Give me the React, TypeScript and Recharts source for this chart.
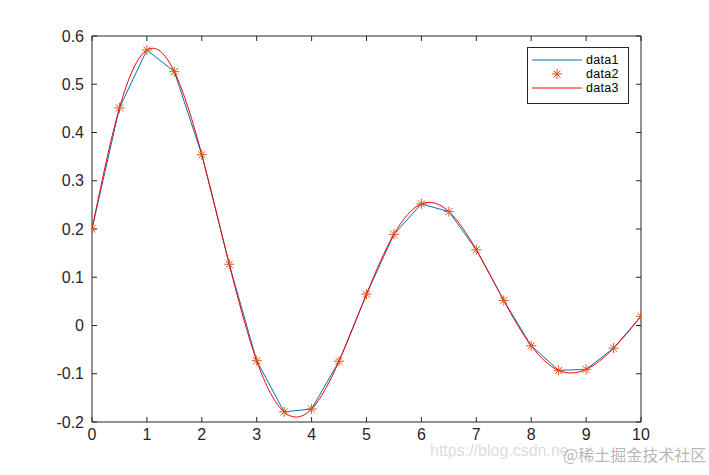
import React from 'react';
import { LineChart, Line, XAxis, YAxis } from 'recharts';

const xValues = [0, 0.5, 1, 1.5, 2, 2.5, 3, 3.5, 4, 4.5, 5, 5.5, 6, 6.5, 7, 7.5, 8, 8.5, 9, 9.5, 10];
const yValues = [0.2, 0.451, 0.571, 0.526, 0.354, 0.127, -0.073, -0.179, -0.173, -0.074, 0.065, 0.189, 0.252, 0.236, 0.157, 0.052, -0.042, -0.093, -0.091, -0.047, 0.019];
const xTicks = [0, 1, 2, 3, 4, 5, 6, 7, 8, 9, 10];
const yTicks = [-0.2, -0.1, 0, 0.1, 0.2, 0.3, 0.4, 0.5, 0.6];
const yTickLabels = ['-0.2', '-0.1', '0', '0.1', '0.2', '0.3', '0.4', '0.5', '0.6'];
const seriesNames = ['data1', 'data2', 'data3'];
const watermarkUrl = 'https://blog.csdn.ne';
const watermarkSite = '@稀土掘金技术社区';

const COLORS = ['#0072BD', '#D95319', '#FF0000'];
const AXIS = '#262626';
const FONT = '"Liberation Sans", Arial, Helvetica, sans-serif';

const data = xValues.map((x, i) => ({ x, d1: yValues[i], d2: yValues[i], d3: yValues[i] }));

const Asterisk = (props: any) => {
  const { cx, cy, size = 5, color = COLORS[1] } = props;
  if (cx == null || cy == null) return null;
  const r = size;
  const d = r * 0.707;
  return (
    <g stroke={color} strokeWidth={1} fill="none">
      <line x1={cx - r} y1={cy} x2={cx + r} y2={cy} />
      <line x1={cx} y1={cy - r} x2={cx} y2={cy + r} />
      <line x1={cx - d} y1={cy - d} x2={cx + d} y2={cy + d} />
      <line x1={cx - d} y1={cy + d} x2={cx + d} y2={cy - d} />
    </g>
  );
};

const ROW = 14;

const LegendBox = () => (
  <div
    style={{
      position: 'absolute',
      left: 527,
      top: 47,
      width: 100,
      height: 55,
      border: '1px solid #262626',
      background: '#fff',
      fontFamily: FONT,
      fontSize: 12.5,
      letterSpacing: 0.3,
      color: '#000',
    }}
  >
    {seriesNames.map((name, i) => (
      <div key={name} style={{ position: 'absolute', left: 0, top: 5 + i * ROW, height: ROW, width: 100 }}>
        <svg width={56} height={ROW} style={{ position: 'absolute', left: 0, top: 0 }}>
          {i === 1 ? (
            <Asterisk cx={29} cy={7} size={5} color={COLORS[1]} />
          ) : (
            <line x1={4} y1={7} x2={54} y2={7} stroke={COLORS[i]} strokeWidth={1} />
          )}
        </svg>
        <span style={{ position: 'absolute', left: 58, top: 0, lineHeight: `${ROW}px` }}>{name}</span>
      </div>
    ))}
  </div>
);

export default function App() {
  return (
    <div style={{ position: 'absolute', left: 0, top: 0, width: 709, height: 475, background: '#fff' }}>
      <LineChart
        width={709}
        height={475}
        data={data}
        margin={{ top: 35, right: 67, left: 32, bottom: 23 }}
      >
        <XAxis
          xAxisId="b"
          dataKey="x"
          type="number"
          domain={[0, 10]}
          ticks={xTicks}
          allowDataOverflow
          height={30}
          tickSize={-5}
          tickMargin={12}
          stroke={AXIS}
          tick={{ fill: AXIS, fontSize: 16, fontFamily: FONT }}
          tickLine={{ stroke: AXIS }}
        />
        <XAxis
          xAxisId="t"
          orientation="top"
          dataKey="x"
          type="number"
          domain={[0, 10]}
          ticks={xTicks}
          allowDataOverflow
          height={1}
          tickSize={-5}
          tickFormatter={() => ''}
          stroke={AXIS}
          tickLine={{ stroke: AXIS }}
        />
        <YAxis
          yAxisId="l"
          type="number"
          domain={[-0.2, 0.6]}
          ticks={yTicks}
          allowDataOverflow
          width={60}
          tickSize={-5}
          tickMargin={13}
          tickFormatter={(v: number) => yTickLabels[yTicks.findIndex((t) => Math.abs(t - v) < 1e-9)] ?? String(v)}
          stroke={AXIS}
          tick={{ fill: AXIS, fontSize: 16, fontFamily: FONT }}
          tickLine={{ stroke: AXIS }}
        />
        <YAxis
          yAxisId="r"
          orientation="right"
          type="number"
          domain={[-0.2, 0.6]}
          ticks={yTicks}
          allowDataOverflow
          width={1}
          tickSize={-5}
          tickFormatter={() => ''}
          stroke={AXIS}
          tickLine={{ stroke: AXIS }}
        />
        <Line
          xAxisId="b"
          yAxisId="l"
          dataKey="d1"
          name={seriesNames[0]}
          type="linear"
          stroke={COLORS[0]}
          strokeWidth={1}
          dot={false}
          activeDot={false}
          isAnimationActive={false}
        />
        <Line
          xAxisId="b"
          yAxisId="l"
          dataKey="d3"
          name={seriesNames[2]}
          type="natural"
          stroke={COLORS[2]}
          strokeWidth={1}
          dot={false}
          activeDot={false}
          isAnimationActive={false}
        />
        <Line
          xAxisId="b"
          yAxisId="l"
          dataKey="d2"
          name={seriesNames[1]}
          type="linear"
          stroke="none"
          dot={(p: any) => <Asterisk key={p.index} cx={p.cx} cy={p.cy} size={5} color={COLORS[1]} />}
          activeDot={false}
          isAnimationActive={false}
        />
      </LineChart>
      <LegendBox />
      <div
        style={{
          position: 'absolute',
          left: 430,
          top: 442,
          fontFamily: FONT,
          fontSize: 16,
          color: 'rgba(150,150,150,0.35)',
          whiteSpace: 'nowrap',
        }}
      >
        {watermarkUrl}
      </div>
      <div
        style={{
          position: 'absolute',
          left: 563,
          top: 442,
          fontFamily: '"Noto Sans CJK SC", sans-serif',
          fontSize: 16,
          color: 'rgba(120,120,120,0.55)',
          whiteSpace: 'nowrap',
        }}
      >
        {watermarkSite}
      </div>
    </div>
  );
}
